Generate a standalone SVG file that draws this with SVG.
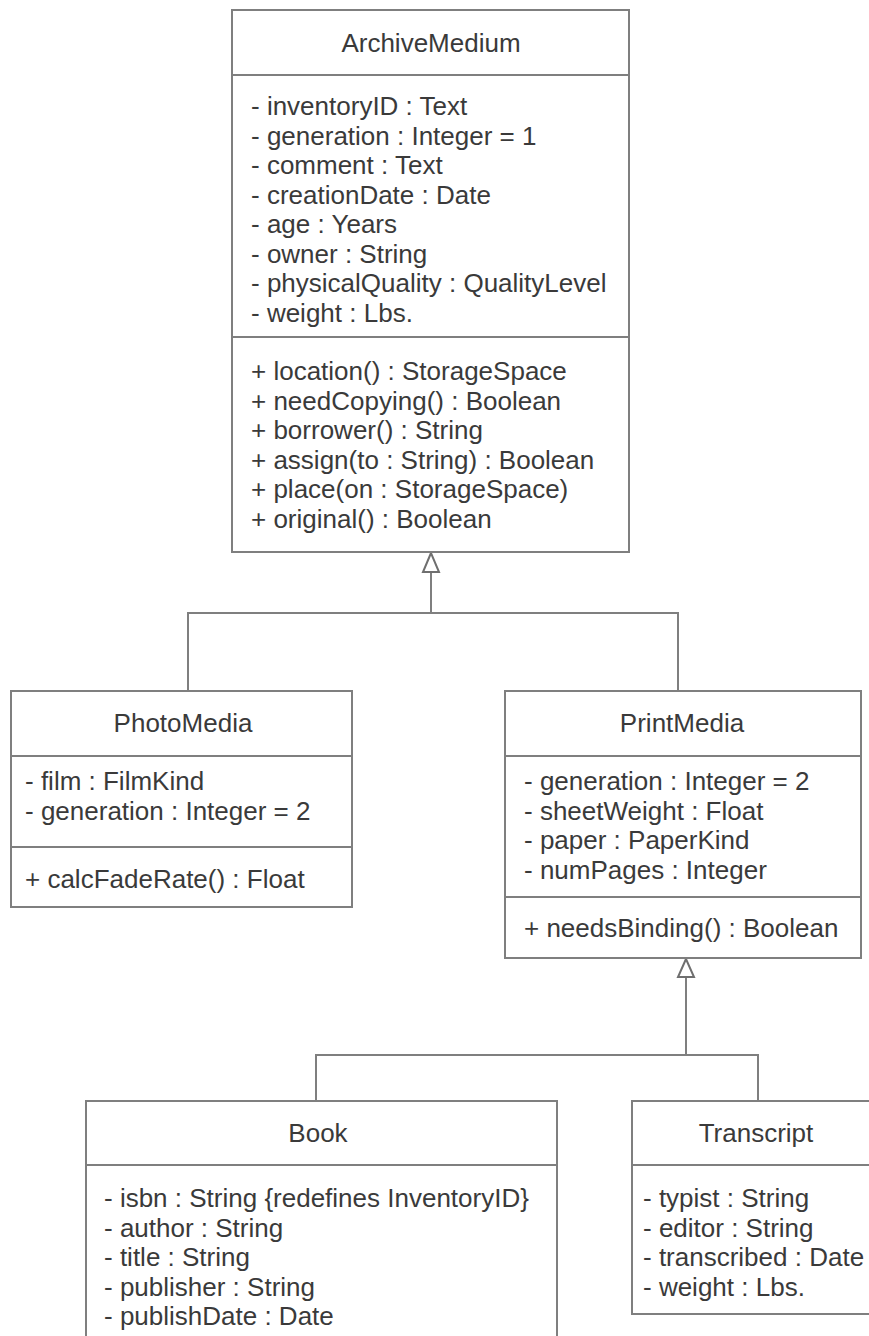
<svg xmlns="http://www.w3.org/2000/svg" width="869" height="1336" viewBox="0 0 869 1336">
<style>
.box{fill:#fff;stroke:#7f7f7f;stroke-width:2}
.sep{stroke:#7f7f7f;stroke-width:2}
.t{font-family:"Liberation Sans",Arial,sans-serif;font-size:26px;fill:#3a3a3a}
.c{text-anchor:middle}
.ln{fill:none;stroke:#7f7f7f;stroke-width:2}
.tri{fill:#fff;stroke:#6f6f6f;stroke-width:2}
</style>
<rect width="869" height="1336" fill="#fff"/>
<g id="connectors">
<polyline class="ln" points="431,572 431,613"/>
<polyline class="ln" points="188,690 188,613 678,613 678,690"/>
<polygon class="tri" points="431,553 423,572 439,572"/>
<polyline class="ln" points="686,977 686,1055"/>
<polyline class="ln" points="316,1101 316,1055 758,1055 758,1101"/>
<polygon class="tri" points="686,959 678,977 694,977"/>
</g>
<g id="ArchiveMedium">
<rect class="box" x="232" y="10" width="397" height="542"/>
<line class="sep" x1="232" y1="75" x2="629" y2="75"/>
<line class="sep" x1="232" y1="337" x2="629" y2="337"/>
<text class="t c" x="431" y="52">ArchiveMedium</text>
<text class="t" x="251" y="115">- inventoryID : Text</text>
<text class="t" x="251" y="144.5">- generation : Integer = 1</text>
<text class="t" x="251" y="174">- comment : Text</text>
<text class="t" x="251" y="203.5">- creationDate : Date</text>
<text class="t" x="251" y="233">- age : Years</text>
<text class="t" x="251" y="262.5">- owner : String</text>
<text class="t" x="251" y="292">- physicalQuality : QualityLevel</text>
<text class="t" x="251" y="321.5">- weight : Lbs.</text>
<text class="t" x="251" y="380">+ location() : StorageSpace</text>
<text class="t" x="251" y="409.5">+ needCopying() : Boolean</text>
<text class="t" x="251" y="439">+ borrower() : String</text>
<text class="t" x="251" y="468.5">+ assign(to : String) : Boolean</text>
<text class="t" x="251" y="498">+ place(on : StorageSpace)</text>
<text class="t" x="251" y="527.5">+ original() : Boolean</text>
</g>
<g id="PhotoMedia">
<rect class="box" x="11" y="691" width="341" height="216"/>
<line class="sep" x1="11" y1="756" x2="352" y2="756"/>
<line class="sep" x1="11" y1="847" x2="352" y2="847"/>
<text class="t c" x="183" y="732">PhotoMedia</text>
<text class="t" x="25" y="790">- film : FilmKind</text>
<text class="t" x="25" y="820">- generation : Integer = 2</text>
<text class="t" x="25" y="888">+ calcFadeRate() : Float</text>
</g>
<g id="PrintMedia">
<rect class="box" x="505" y="691" width="356" height="267"/>
<line class="sep" x1="505" y1="756" x2="861" y2="756"/>
<line class="sep" x1="505" y1="897" x2="861" y2="897"/>
<text class="t c" x="682" y="732">PrintMedia</text>
<text class="t" x="524" y="790">- generation : Integer = 2</text>
<text class="t" x="524" y="819.5">- sheetWeight : Float</text>
<text class="t" x="524" y="849">- paper : PaperKind</text>
<text class="t" x="524" y="878.5">- numPages : Integer</text>
<text class="t" x="524" y="937">+ needsBinding() : Boolean</text>
</g>
<g id="Book">
<rect class="box" x="86" y="1101" width="471" height="260"/>
<line class="sep" x1="86" y1="1165" x2="557" y2="1165"/>
<text class="t c" x="318" y="1142">Book</text>
<text class="t" x="104" y="1207">- isbn : String {redefines InventoryID}</text>
<text class="t" x="104" y="1236.5">- author : String</text>
<text class="t" x="104" y="1266">- title : String</text>
<text class="t" x="104" y="1295.5">- publisher : String</text>
<text class="t" x="104" y="1325">- publishDate : Date</text>
</g>
<g id="Transcript">
<rect class="box" x="632" y="1101" width="260" height="213"/>
<line class="sep" x1="632" y1="1165" x2="892" y2="1165"/>
<text class="t c" x="756" y="1142">Transcript</text>
<text class="t" x="643" y="1207">- typist : String</text>
<text class="t" x="643" y="1236.5">- editor : String</text>
<text class="t" x="643" y="1266">- transcribed : Date</text>
<text class="t" x="643" y="1295.5">- weight : Lbs.</text>
</g>
</svg>
